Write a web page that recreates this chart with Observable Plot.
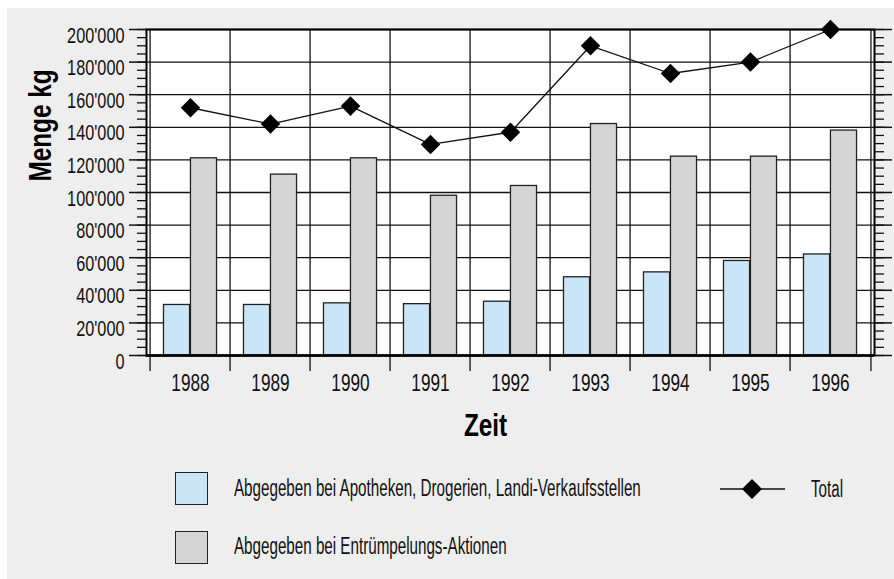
<!DOCTYPE html>
<html><head><meta charset="utf-8">
<script src="https://cdn.jsdelivr.net/npm/d3@7"></script>
<script src="https://cdn.jsdelivr.net/npm/@observablehq/plot@0.6"></script>
<style>
body{margin:0;background:#fff;}
#wrap{position:relative;width:894px;height:579px;overflow:hidden;}
#bg{position:absolute;left:7px;top:8px;right:0;bottom:0;background:#eeeeee;}
#chart{position:absolute;left:0;top:0;}
.lg{position:absolute;font-family:"Liberation Sans",Arial,sans-serif;font-size:23px;line-height:23px;color:#111;white-space:nowrap;transform-origin:0 50%;transform:scaleX(0.66);}
.sw{position:absolute;box-sizing:border-box;width:33px;height:33px;border:1.5px solid #222;}
</style></head>
<body><div id="wrap"><div id="bg"></div><div id="chart"></div><div id="legend"></div></div>
<script>
// ---- data ----
const years = ["1988","1989","1990","1991","1992","1993","1994","1995","1996"];
const apotheken = [31000, 31000, 32000, 31500, 33000, 48000, 51000, 58000, 62000];
const entruempelung = [121000, 111000, 121000, 98000, 104000, 142000, 122000, 122000, 138000];
const total = [152000, 142000, 153000, 129500, 137000, 190000, 173000, 180000, 200000];
const yMajorTicks = [0, 20000, 40000, 60000, 80000, 100000, 120000, 140000, 160000, 180000, 200000];
const seriesLabels = ["Abgegeben bei Apotheken, Drogerien, Landi-Verkaufsstellen", "Abgegeben bei Entrümpelungs-Aktionen", "Total"];
const yTitle = "Menge kg";
const xTitle = "Zeit";

// ---- layout ----
const W = 894, H = 460;
const mL = 146, mR = 20, mT = 29, mB = H - 355;
const bw = (W - mL - mR) / years.length;
const blue = "#c9e5f7", grey = "#d4d4d4";
const font = '"Liberation Sans",Arial,sans-serif';
const data = years.map((y, i) => ({year: y, a: apotheken[i], e: entruempelung[i], t: total[i]}));
const fmt = d3.formatLocale({decimal: ".", thousands: "'", grouping: [3], currency: ["", ""]}).format(",");
const minorTicks = d3.range(0, 200001, 5000);
const diamond = {draw(ctx, size) { const r = Math.sqrt(size) * 0.62625; ctx.moveTo(0, -r); ctx.lineTo(r, 0); ctx.lineTo(0, r); ctx.lineTo(-r, 0); ctx.closePath(); }};

const plot = Plot.plot({
  width: W, height: H, marginLeft: mL, marginRight: mR, marginTop: mT, marginBottom: mB,
  style: {background: "transparent", fontFamily: font, fontSize: "22px", color: "#111", overflow: "visible"},
  x: {type: "band", domain: years, padding: 0, axis: null},
  y: {domain: [0, 200000], axis: null},
  marks: [
    Plot.frame({fill: "white"}),
    Plot.ruleY(yMajorTicks, {stroke: "#111", strokeWidth: 1.3}),
    Plot.ruleX(years, {x: d => d, dx: -bw / 2, insetBottom: -16, stroke: "#111", strokeWidth: 1.3}),
    Plot.ruleX(years.slice(-1), {x: d => d, dx: bw / 2, insetBottom: -16, stroke: "#111", strokeWidth: 1.3}),
    Plot.barY(data, {x: "year", y: "a", fill: blue, stroke: "#222", strokeWidth: 1.3, insetLeft: bw / 6, insetRight: bw / 2}),
    Plot.barY(data, {x: "year", y: "e", fill: grey, stroke: "#222", strokeWidth: 1.3, insetLeft: bw / 2, insetRight: bw / 6}),
    Plot.frame({stroke: "#000", strokeWidth: 2}),
    Plot.ruleY([0], {stroke: "#000", strokeWidth: 2.5}),
    Plot.line(data, {x: "year", y: "t", stroke: "#111", strokeWidth: 1.3}),
    Plot.dot(data, {x: "year", y: "t", symbol: diamond, r: 8.8, fill: "#000", stroke: "none"}),
    Plot.axisY({anchor: "left", ticks: minorTicks, tickSize: 9, tickFormat: () => "", strokeWidth: 1.3, label: null}),
    Plot.axisY({anchor: "left", ticks: yMajorTicks, tickSize: 17, tickFormat: () => "", strokeWidth: 1.5, label: null}),
    Plot.axisY({anchor: "right", ticks: minorTicks, tickSize: 9, tickFormat: () => "", strokeWidth: 1.3, label: null}),
    Plot.axisY({anchor: "right", ticks: yMajorTicks, tickSize: 17, tickFormat: () => "", strokeWidth: 1.5, label: null}),
    Plot.text(yMajorTicks, {y: d => d, frameAnchor: "left", text: d => fmt(d), textAnchor: "end", dx: -22, dy: 6, fontSize: 22, fill: "#111"}),
    Plot.text(years, {x: d => d, frameAnchor: "bottom", text: d => d, dy: 35, fontSize: 23, fill: "#111"}),
    Plot.text([yTitle], {frameAnchor: "left", rotate: -90, dx: -106, dy: -11, fontSize: 32, fontWeight: "bold", fill: "#000"}),
    Plot.text([xTitle], {frameAnchor: "bottom", dx: -25, dy: 80, fontSize: 32, fontWeight: "bold", fill: "#000"})
  ]
});
document.getElementById("chart").appendChild(plot);

// condense the text glyphs (the original uses a condensed typeface)
const svgRoot = plot.tagName === "svg" ? plot : plot.querySelector("svg");
const condense = [0.74, 0.75, 0.76, 0.76];
svgRoot.querySelectorAll('g[aria-label="text"]').forEach((g, i) => {
  const s = condense[i] ?? 1;
  g.querySelectorAll("text").forEach(t => {
    const tr = t.getAttribute("transform") || "";
    t.setAttribute("transform", tr + ` scale(${s},1)`);
  });
});

// ---- legend (HTML) ----
const lg = document.getElementById("legend");
function sw(color, top) {
  const d = document.createElement("div"); d.className = "sw";
  d.style.left = "175px"; d.style.top = top + "px"; d.style.background = color; lg.appendChild(d);
}
function lbl(text, left, top) {
  const d = document.createElement("div"); d.className = "lg"; d.textContent = text;
  d.style.left = left + "px"; d.style.top = top + "px"; lg.appendChild(d);
}
sw(blue, 472); sw(grey, 531);
lbl(seriesLabels[0], 234, 477);
lbl(seriesLabels[1], 234, 535);
lbl(seriesLabels[2], 811, 478);
const ns = "http://www.w3.org/2000/svg";
const s = document.createElementNS(ns, "svg");
s.setAttribute("width", 70); s.setAttribute("height", 24);
s.style.position = "absolute"; s.style.left = "717px"; s.style.top = "477px";
s.innerHTML = '<line x1="3" x2="68" y1="12" y2="12" stroke="#111" stroke-width="1.5"/><path d="M35,2L45,12L35,22L25,12Z" fill="#000"/>';
lg.appendChild(s);
</script>
</body></html>
